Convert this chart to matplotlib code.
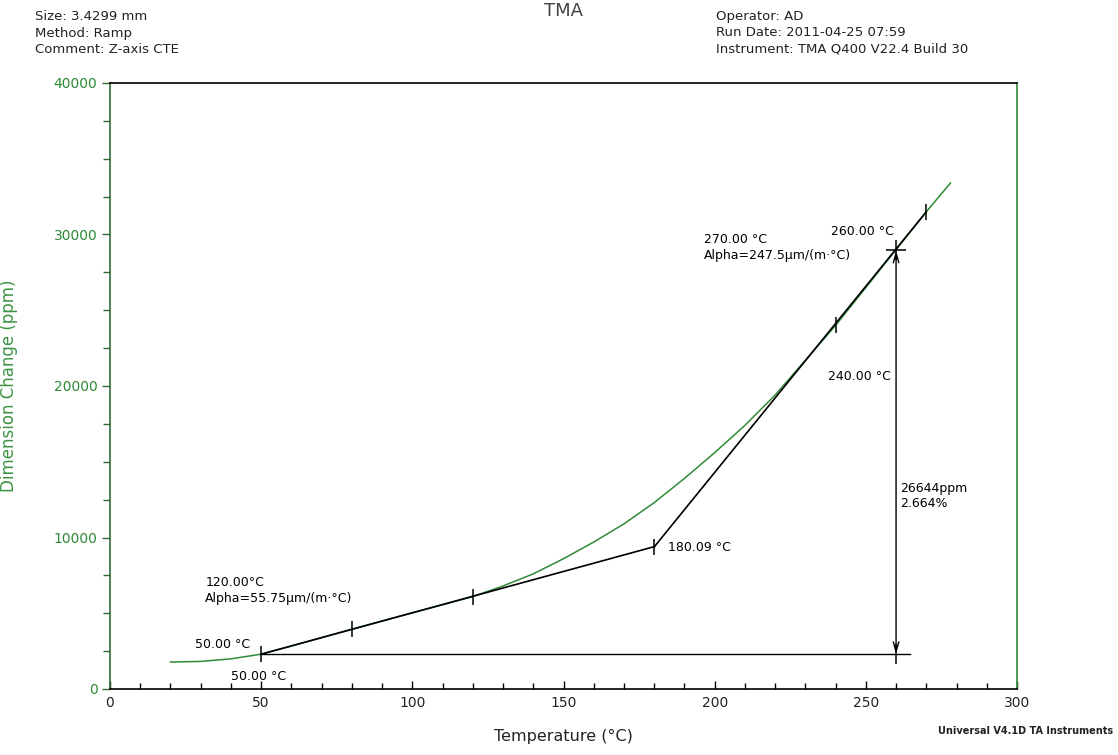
import matplotlib
matplotlib.use("Agg")
import matplotlib.pyplot as plt
from matplotlib.ticker import MultipleLocator

plt.rcParams['font.family'] = ['DejaVu Sans']

# ---- data ----
temp = [20, 30, 40, 50, 60, 70, 80, 90, 100, 110, 120, 130, 140, 150, 160,
        170, 180, 190, 200, 210, 220, 230, 240, 250, 260, 270, 278]
dim_change = [1780, 1820, 1990, 2300, 2830, 3390, 3950, 4490, 5030, 5560, 6100,
              6800, 7600, 8600, 9700, 10900, 12300, 13900, 15600, 17400, 19400,
              21700, 24000, 26500, 29000, 31500, 33400]

line1_x = [50.0, 180.09]
line1_y = [2300, 9400]
line2_x = [180.09, 270.0]
line2_y = [9400, 31500]
baseline_x = [50.0, 264.5]
baseline_y = [2300, 2300]
step_x = 260.0
step_ppm = 26644

tick_marks_x = [50.0, 80.0, 120.0, 180.09, 240.0, 270.0]
tick_marks_y = [2300, 3950, 6100, 9400, 24050, 31500]

x_ticks = [0, 50, 100, 150, 200, 250, 300]
y_ticks = [0, 10000, 20000, 30000, 40000]

annotations = [
    (28.0, 2950, "50.00 °C"),
    (40.0, 850, "50.00 °C"),
    (31.5, 7000, "120.00°C"),
    (31.5, 5950, "Alpha=55.75μm/(m·°C)"),
    (184.5, 9350, "180.09 °C"),
    (237.5, 20650, "240.00 °C"),
    (196.5, 29650, "270.00 °C"),
    (196.5, 28600, "Alpha=247.5μm/(m·°C)"),
    (238.5, 30200, "260.00 °C"),
    (261.5, 13250, "26644ppm"),
    (261.5, 12250, "2.664%"),
]

GREEN = "#2f8a36"
DKGREEN = "#2e6e33"

fig = plt.figure(figsize=(11.18, 7.55), dpi=100)
ax = fig.add_axes([110/1118, 66/755, 907/1118, 606/755])

ax.plot(temp, dim_change, color=GREEN, lw=1.1, zorder=2)
ax.plot(line1_x, line1_y, color="black", lw=1.2, zorder=3)
ax.plot(line2_x, line2_y, color="black", lw=1.2, zorder=3)
ax.plot(baseline_x, baseline_y, color="black", lw=1.0, zorder=3)
ax.plot(tick_marks_x, tick_marks_y, ls="none", marker="|", ms=11, mew=1.1,
        color="black", zorder=4)
ax.plot([step_x], [baseline_y[0] + step_ppm], ls="none", marker="+", ms=14,
        mew=1.1, color="black", zorder=4)
ax.plot([step_x], [baseline_y[0]], ls="none", marker="|", ms=14,
        mew=1.1, color="black", zorder=4)
ax.annotate("", xy=(step_x, baseline_y[0] + step_ppm), xytext=(step_x, baseline_y[0]),
            arrowprops=dict(arrowstyle="<->,head_length=0.7,head_width=0.2",
                            color="black", lw=1.0, shrinkA=0, shrinkB=0),
            zorder=4)

for x, y, s in annotations:
    ax.text(x, y, s, fontsize=9, color="black", ha="left", va="center")

ax.set_xlim(0, 300)
ax.set_ylim(0, 40000)
ax.set_xticks(x_ticks)
ax.set_yticks(y_ticks)
ax.xaxis.set_minor_locator(MultipleLocator(10))
ax.yaxis.set_minor_locator(MultipleLocator(2500))

ax.tick_params(axis="x", which="major", direction="in", length=6, width=1,
               labelsize=10, labelcolor="#222222", pad=5, color="black")
ax.tick_params(axis="x", which="minor", direction="in", length=4, width=1, color="black")
ax.tick_params(axis="y", which="major", direction="out", length=6, width=1,
               labelsize=10, labelcolor=GREEN, pad=3, color=DKGREEN)
ax.tick_params(axis="y", which="minor", direction="out", length=5, width=1, color=DKGREEN)

ax.spines["left"].set_color(DKGREEN)
ax.spines["right"].set_color(GREEN)
ax.spines["top"].set_color("black")
ax.spines["bottom"].set_color("black")
for sp in ax.spines.values():
    sp.set_linewidth(1.2)

ax.set_ylabel("Dimension Change (ppm)", fontsize=12, color="#3d9444")
ax.yaxis.set_label_coords(-0.101, 0.5)
ax.set_xlabel("Temperature (°C)", fontsize=11.5, color="#222222")
ax.xaxis.set_label_coords(0.5, -0.066)

fig.text(563/1118, 1 - 11/755, "TMA", fontsize=13, color="#444444",
         ha="center", va="center")
fig.text(35/1118, 1 - 33/755, "Size: 3.4299 mm\nMethod: Ramp\nComment: Z-axis CTE",
         fontsize=9.5, color="#222222", ha="left", va="center", linespacing=1.35)
fig.text(716/1118, 1 - 33/755,
         "Operator: AD\nRun Date: 2011-04-25 07:59\nInstrument: TMA Q400 V22.4 Build 30",
         fontsize=9.5, color="#222222", ha="left", va="center", linespacing=1.35)
fig.text(1113/1118, 1 - 731/755, "Universal V4.1D TA Instruments", fontsize=7,
         fontweight="bold", color="#222222", ha="right", va="center")

fig.savefig("out.png", dpi=100)
